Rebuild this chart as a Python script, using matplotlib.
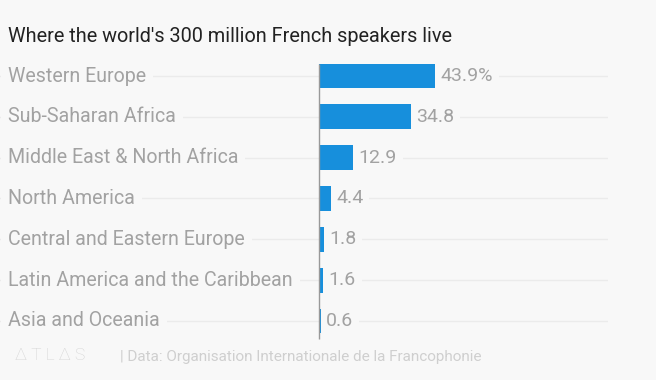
import matplotlib.pyplot as plt
from matplotlib import transforms

regions = [
    "Western Europe",
    "Sub-Saharan Africa",
    "Middle East & North Africa",
    "North America",
    "Central and Eastern Europe",
    "Latin America and the Caribbean",
    "Asia and Oceania",
]
shares = [43.9, 34.8, 12.9, 4.4, 1.8, 1.6, 0.6]
value_labels = ["43.9%", "34.8", "12.9", "4.4", "1.8", "1.6", "0.6"]

title = "Where the world's 300 million French speakers live"
source = "| Data: Organisation Internationale de la Francophonie"

BG = "#f8f8f8"
BAR = "#178fdc"
GREY = "#a2a2a2"
GRID = "#ebebeb"

W, H = 656, 380
fig = plt.figure(figsize=(W / 100, H / 100), dpi=100, facecolor=BG)
plt.rcParams["font.family"] = ["Roboto", "DejaVu Sans"]

# axes: zero at pixel 319, 2.64 px per unit, rows 40.83 px apart starting at y=76
px_per_unit = 2.64
x0_px, right_px = 319, 608
top_px, bot_px = 56, 345
row0, step = 76, 40.83
ax = fig.add_axes([0, (H - bot_px) / H, right_px / W, (bot_px - top_px) / H])
ax.set_facecolor(BG)
ax.set_xlim(-x0_px / px_per_unit, (right_px - x0_px) / px_per_unit)
ax.set_ylim((bot_px - row0) / step, (top_px - row0) / step)
for s in ax.spines.values():
    s.set_visible(False)
ax.set_xticks([])
ax.set_yticks([])

ypos = list(range(len(regions)))
for y in ypos:
    ax.axhline(y, color=GRID, lw=1, zorder=0)

ax.barh(ypos, shares, height=0.61, color=BAR, zorder=2)
ax.plot([0, 0], [-0.3, 6.45], color="#999999", lw=1, zorder=3, solid_capstyle="butt")

lab_tr = transforms.blended_transform_factory(fig.transFigure, ax.transData)
for y, name in zip(ypos, regions):
    ax.text(8 / W, y, name, transform=lab_tr, ha="left", va="center",
            fontsize=14.15, color=GREY, zorder=1,
            bbox=dict(boxstyle="square,pad=0.35", fc=BG, ec="none"))

for y, v, lab in zip(ypos, shares, value_labels):
    ax.annotate(lab, (v, y), xytext=(4, 0), textcoords="offset points",
                ha="left", va="center", fontsize=14, color=GREY, zorder=1,
                bbox=dict(boxstyle="square,pad=0.3", fc=BG, ec="none"))

fig.text(8 / W, 1 - 36 / H, title, ha="left", va="center",
         fontsize=14.3, color="#222222")

fig.text(15 / W, 1 - 356 / H, "\u2206 T L \u2206 S", ha="left", va="center",
         fontsize=12.5, fontweight="light", color="#d4d4d4")
fig.text(120 / W, 1 - 357 / H, source, ha="left", va="center",
         fontsize=11, color="#cfcfcf")

fig.savefig("out.png", dpi=100, facecolor=BG)
